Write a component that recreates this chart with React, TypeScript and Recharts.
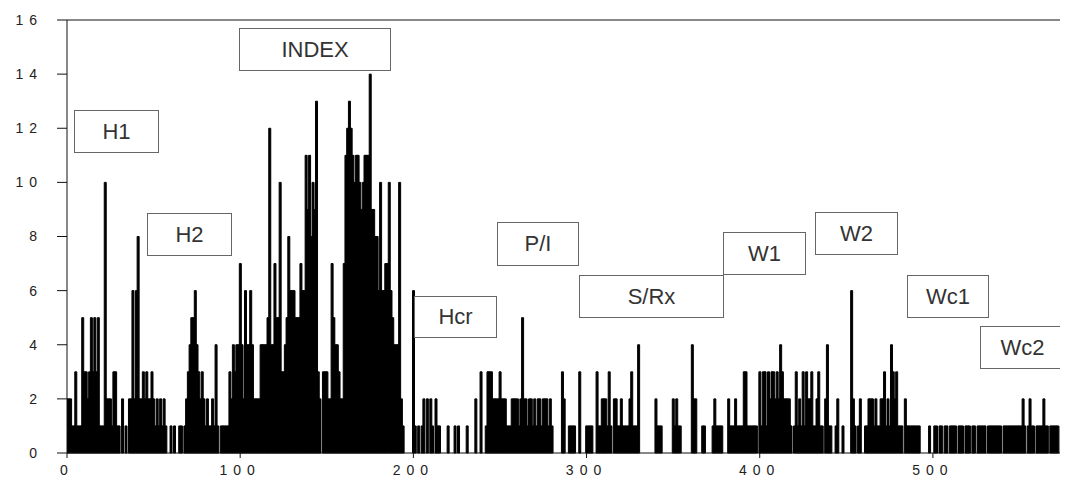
import React from 'react';
import { BarChart, Bar, XAxis, YAxis, ReferenceLine } from 'recharts';

// counts per position, index = x value (0..577)
const counts: number[] = [
  2, 2, 2, 1, 1, 3, 1, 1, 1, 5,
  3, 3, 2, 3, 5, 3, 5, 3, 5, 1,
  1, 1, 10, 2, 2, 2, 1, 3, 3, 1,
  1, 0, 2, 0, 1, 0, 2, 2, 6, 2,
  6, 8, 2, 2, 3, 2, 3, 2, 2, 3,
  2, 1, 2, 1, 2, 1, 2, 1, 0, 0,
  1, 0, 1, 0, 0, 1, 1, 0, 1, 2,
  3, 4, 5, 5, 6, 4, 3, 2, 3, 2,
  1, 2, 1, 1, 2, 1, 4, 1, 0, 1,
  1, 1, 1, 1, 3, 2, 4, 3, 4, 4,
  7, 4, 2, 6, 4, 4, 6, 4, 2, 2,
  2, 2, 4, 4, 4, 4, 5, 12, 4, 4,
  7, 5, 5, 10, 3, 3, 4, 5, 8, 6,
  6, 6, 5, 5, 5, 7, 6, 6, 11, 9,
  11, 8, 10, 9, 13, 3, 2, 0, 3, 3,
  3, 2, 2, 7, 5, 4, 4, 3, 2, 2,
  7, 11, 12, 13, 12, 11, 10, 11, 11, 10,
  9, 10, 11, 11, 11, 14, 9, 9, 8, 8,
  6, 10, 6, 6, 7, 7, 10, 6, 5, 4,
  4, 4, 10, 2, 1, 0, 0, 0, 0, 0,
  6, 1, 0, 1, 0, 1, 2, 0, 2, 0,
  2, 1, 0, 2, 1, 1, 0, 0, 0, 0,
  1, 0, 0, 0, 1, 0, 1, 0, 0, 0,
  0, 1, 0, 0, 0, 0, 2, 0, 0, 3,
  0, 0, 1, 3, 3, 3, 2, 2, 2, 2,
  3, 2, 2, 2, 1, 1, 1, 2, 2, 2,
  2, 1, 2, 5, 2, 2, 1, 2, 2, 1,
  2, 1, 2, 2, 1, 2, 2, 2, 1, 2,
  1, 0, 0, 0, 0, 0, 3, 2, 0, 0,
  1, 1, 1, 1, 0, 0, 3, 0, 0, 0,
  1, 1, 1, 1, 0, 0, 3, 1, 1, 2,
  2, 2, 1, 3, 1, 0, 2, 2, 1, 1,
  2, 1, 1, 1, 1, 2, 3, 1, 1, 1,
  4, 0, 0, 0, 0, 0, 0, 0, 0, 0,
  2, 1, 1, 1, 0, 0, 0, 0, 0, 0,
  2, 1, 2, 1, 1, 0, 0, 0, 0, 0,
  0, 4, 2, 2, 0, 0, 0, 1, 1, 0,
  0, 0, 0, 1, 2, 1, 1, 1, 1, 0,
  0, 0, 2, 1, 1, 1, 2, 1, 1, 1,
  1, 3, 3, 1, 1, 1, 1, 1, 1, 0,
  3, 1, 3, 3, 1, 3, 2, 3, 3, 2,
  3, 2, 4, 3, 2, 2, 2, 2, 1, 0,
  1, 3, 1, 2, 1, 3, 1, 3, 2, 2,
  3, 1, 1, 2, 3, 1, 1, 0, 2, 4,
  1, 1, 0, 0, 1, 2, 0, 0, 1, 0,
  0, 0, 0, 6, 2, 1, 0, 1, 2, 0,
  0, 1, 1, 2, 2, 2, 1, 2, 1, 1,
  2, 2, 3, 1, 2, 1, 4, 3, 2, 3,
  1, 1, 1, 0, 2, 1, 1, 1, 1, 1,
  1, 1, 1, 0, 0, 0, 0, 0, 1, 0,
  0, 1, 1, 0, 1, 1, 0, 1, 1, 0,
  1, 1, 1, 1, 0, 1, 1, 1, 0, 1,
  1, 1, 0, 1, 1, 0, 1, 1, 1, 1,
  1, 0, 1, 1, 1, 1, 1, 1, 1, 1,
  0, 1, 1, 1, 1, 1, 1, 1, 1, 1,
  1, 1, 2, 1, 0, 1, 2, 1, 1, 0,
  1, 1, 1, 1, 2, 1, 1, 0, 1, 1,
  1, 1, 1, 0, 1, 1, 1, 1,
];

const xTicks = [0, 100, 200, 300, 400, 500];
const yTicks = [0, 2, 4, 6, 8, 10, 12, 14, 16];
const regionLabels = ['H1', 'H2', 'INDEX', 'Hcr', 'P/I', 'S/Rx', 'W1', 'W2', 'Wc1', 'Wc2'];

// box placement in page pixels (left, top, right, bottom)
const boxLayout: Record<string, [number, number, number, number]> = {
  H1: [74, 110, 159, 153],
  H2: [147, 213, 232, 256],
  INDEX: [239, 28, 391, 71],
  Hcr: [414, 296, 497, 338],
  'P/I': [497, 222, 579, 266],
  'S/Rx': [579, 275, 724, 318],
  W1: [723, 232, 806, 275],
  W2: [815, 212, 898, 255],
  Wc1: [907, 275, 989, 318],
  Wc2: [980, 326, 1065, 369],
};

const data = counts.map((n, i) => ({ x: i, n }));

const FONT = '"Liberation Sans", Arial, sans-serif';

export default function App() {
  return (
    <div style={{ position: 'relative', width: 1060, height: 472, fontFamily: FONT }}>
      <BarChart
        width={1060}
        height={472}
        data={data}
        margin={{ top: 12, right: 0, left: 0, bottom: 0 }}
        barCategoryGap={0}
        barGap={0}
      >
        <XAxis
          dataKey="x"
          type="number"
          domain={[0, 578]}
          ticks={xTicks}
          allowDataOverflow
          height={27}
          tickSize={5}
          tickMargin={7}
          stroke="#111"
          tick={{ fill: '#222', fontSize: 14, letterSpacing: 6, fontFamily: FONT }}
        />
        <YAxis
          domain={[0, 16]}
          ticks={yTicks}
          width={59}
          tickSize={10}
          tickMargin={14}
          stroke="#111"
          tick={{ fill: '#222', fontSize: 14, letterSpacing: 6, fontFamily: FONT }}
        />
        <ReferenceLine y={16} stroke="#111" />
        <Bar dataKey="n" fill="#000" stroke="#000" strokeWidth={1} isAnimationActive={false} />
      </BarChart>
      {regionLabels.map((name) => {
        const [l, t, r, b] = boxLayout[name];
        return (
          <div
            key={name}
            style={{
              position: 'absolute',
              left: l - 8,
              top: t - 8,
              width: r - l,
              height: b - t,
              boxSizing: 'border-box',
              border: '1px solid #666',
              background: '#fff',
              display: 'flex',
              alignItems: 'center',
              justifyContent: 'center',
              fontSize: 22,
              color: '#333',
            }}
          >
            {name}
          </div>
        );
      })}
    </div>
  );
}
